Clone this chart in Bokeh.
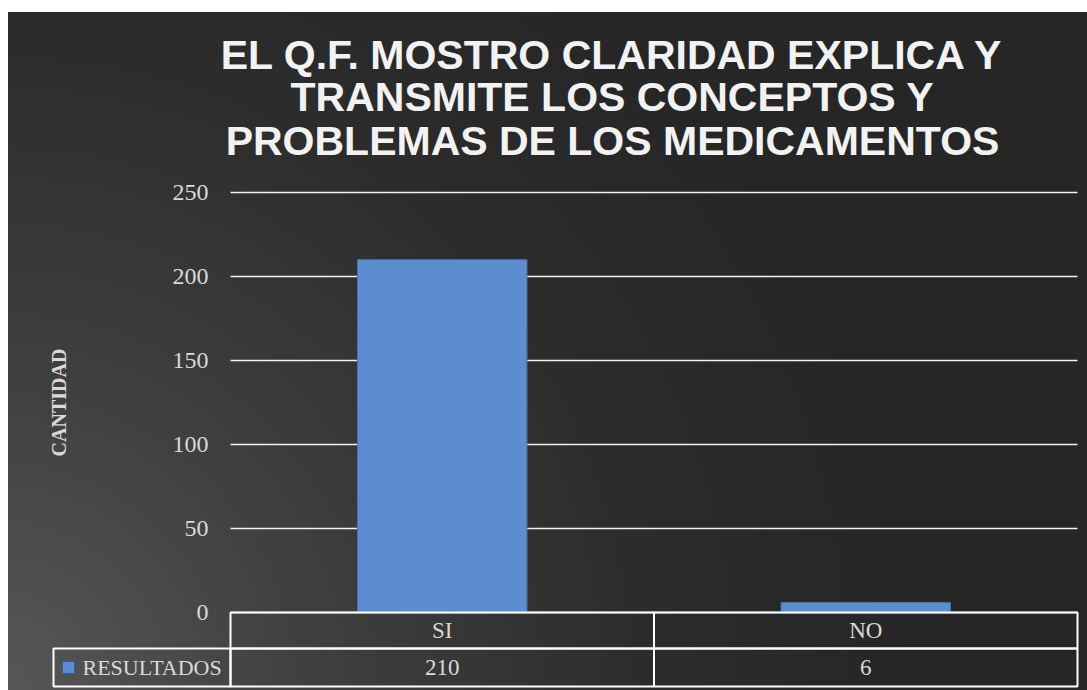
from bokeh.plotting import figure
from bokeh.models import FixedTicker, Label, ColumnDataSource, Range1d
from bokeh.core.properties import value
from bokeh.embed import file_html
from bokeh.resources import INLINE

# ---- data ----
title_lines = ["EL Q.F. MOSTRO CLARIDAD EXPLICA Y",
               "TRANSMITE LOS CONCEPTOS Y",
               "PROBLEMAS DE LOS MEDICAMENTOS"]
categories = ["SI", "NO"]
values = [210, 6]
series_name = "RESULTADOS"
y_ticks = [0, 50, 100, 150, 200, 250]
y_label = "CANTIDAD"

# ---- layout constants (pixels) ----
W, H = 1087, 690
X0_PX = 230          # left edge of the category area
COL_PX = 423.5       # width of one category column
Y0_PX = 612          # baseline (value 0)
PX_PER_UNIT = 1.68   # vertical scale
ROW1_PX, ROW2_PX = 36, 74   # data-table row bottoms below the baseline
LABEL_COL_PX = 177          # legend-key column width
SERIF = "Liberation Serif"
LIGHT = "#d9d9d9"

n = len(categories)
xs = [i + 0.5 for i in range(n)]
row1 = ROW1_PX / PX_PER_UNIT
row2 = ROW2_PX / PX_PER_UNIT
label_w = LABEL_COL_PX / COL_PX

bars = ColumnDataSource(dict(x=xs, val=values, cat=categories,
                             lab=[str(v) for v in values]))

p = figure(width=W, height=H,
           x_range=Range1d(-X0_PX / COL_PX, (W - X0_PX) / COL_PX),
           y_range=Range1d(-(H - Y0_PX) / PX_PER_UNIT, Y0_PX / PX_PER_UNIT),
           output_backend="svg", toolbar_location=None,
           min_border_left=0, min_border_right=0,
           min_border_top=0, min_border_bottom=0)
p.title.visible = False
p.outline_line_color = None
p.background_fill_alpha = 0
p.border_fill_alpha = 0
p.styles = {
    "background": "linear-gradient(to bottom, #ffffff 0px, #ffffff 12px, transparent 12px), "
                  "linear-gradient(to right, #ffffff 0px, #ffffff 8px, transparent 8px), "
                  "radial-gradient(circle at 0% 100%, #575757 0px, #3e3e3e 330px, #2c2c2c 640px, #262626 900px)"
}
p.xgrid.grid_line_color = None
p.ygrid.grid_line_color = None
p.xaxis.visible = False

# y axis, anchored at the left edge of the category area
yax = p.yaxis[0]
yax.fixed_location = 0
yax.bounds = (y_ticks[0], y_ticks[-1])
yax.ticker = FixedTicker(ticks=y_ticks)
yax.axis_line_color = None
yax.major_tick_line_color = None
yax.minor_tick_line_color = None
yax.major_tick_out = 0
yax.major_tick_in = 0
yax.major_label_standoff = 22
yax.major_label_text_font = SERIF
yax.major_label_text_font_size = "24px"
yax.major_label_text_color = LIGHT
yax.axis_label = y_label
yax.axis_label_text_font = SERIF
yax.axis_label_text_font_style = "bold"
yax.axis_label_text_font_size = "20px"
yax.axis_label_text_color = LIGHT
yax.axis_label_standoff = 100

# horizontal grid lines across the category area
p.segment(x0=0, x1=n, y0=y_ticks, y1=y_ticks,
          line_color="#f2f2f2", line_width=1.5)

# bars
p.vbar(x="x", top="val", width=0.4, source=bars,
       fill_color="#5b8dd0", line_color="#4674b4", line_width=1)

# data table
p.quad(left=list(range(n)) * 2, right=[i + 1 for i in range(n)] * 2,
       top=[0] * n + [-row1] * n, bottom=[-row1] * n + [-row2] * n,
       fill_alpha=0, line_color="white", line_width=2)
p.quad(left=[-label_w], right=[0], top=[-row1], bottom=[-row2],
       fill_alpha=0, line_color="white", line_width=2)
p.text(x="x", y=-row1 / 2, text="cat", source=bars,
       text_font=value(SERIF), text_font_size="23px", text_color=LIGHT,
       text_align="center", text_baseline="middle")
p.text(x="x", y=-(row1 + row2) / 2, text="lab", source=bars,
       text_font=value(SERIF), text_font_size="23px", text_color=LIGHT,
       text_align="center", text_baseline="middle")
p.scatter(x=[-label_w + 15 / COL_PX], y=[-(row1 + row2) / 2], marker="square",
          size=12, fill_color="#5b8dd0", line_color="#2f5f9f")
p.text(x=[-label_w + 29 / COL_PX], y=[-(row1 + row2) / 2], text=[series_name],
       text_font=value(SERIF), text_font_size="22px", text_color=LIGHT,
       text_align="left", text_baseline="middle")

# title
for line, yb in zip(title_lines, [54.5, 96.0, 140.0]):
    p.add_layout(Label(x=612, y=H - yb, x_units="screen", y_units="screen",
                       text=line, text_font="Liberation Sans",
                       text_font_style="bold", text_font_size="41px",
                       text_color="#f2f2f2", text_align="center",
                       text_baseline="alphabetic"))

open("out.html", "w").write(file_html(p, INLINE))
